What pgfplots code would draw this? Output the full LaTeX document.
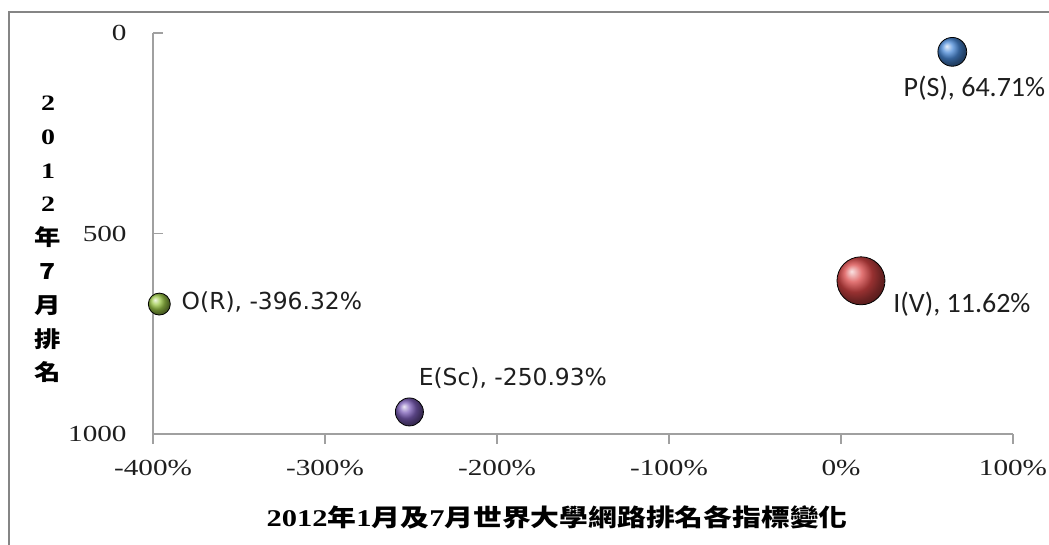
\documentclass[border=0pt]{standalone}
\usepackage{fontspec}
\usepackage{pgfplots}
\pgfplotsset{compat=1.18}
\setmainfont{Liberation Serif}[FakeStretch=1.27]
\newfontfamily\cjk{Noto Sans CJK TC}[FakeStretch=1.2]
\newfontfamily\lbl{DejaVu Sans}
\newfontfamily\lblc{Carlito}
\definecolor{axgray}{HTML}{A0A0A0}
\definecolor{framegray}{HTML}{858585}
\definecolor{pblue}{HTML}{4A8AD8}
\definecolor{pred}{HTML}{D84646}
\definecolor{pgreen}{HTML}{9CC848}
\definecolor{ppurple}{HTML}{7C5EB8}
\definecolor{txt}{HTML}{1E1E1E}
\begin{document}
\begin{tikzpicture}[x=1pt,y=1pt]
\useasboundingbox (0,0) rectangle (524.5,272.5);
\draw[framegray, line width=1pt] (4.5,0) -- (4.5,266.5) -- (524.5,266.5);
\begin{axis}[
  at={(76.5pt,55.5pt)}, anchor=south west,
  scale only axis, width=430pt, height=200.5pt,
  xmin=-400, xmax=100, ymin=0, ymax=1000, y dir=reverse,
  axis x line*=bottom, axis y line*=left,
  axis line style={axgray, line width=0.8pt},
  xtick={-400,-300,-200,-100,0,100},
  xticklabels={-400\%,-300\%,-200\%,-100\%,0\%,100\%},
  ytick={0,500,1000}, yticklabels={0,500,1000},
  xtick align=outside, ytick align=inside, major tick length=5pt,
  tick style={axgray, line width=0.8pt},
  tick label style={font=\fontsize{11.5}{12}\selectfont, text=txt},
  xticklabel style={inner sep=0pt, anchor=north, yshift=-8pt},
  yticklabel style={inner sep=0pt, anchor=east, xshift=-13pt},
  /pgf/number format/assume math mode=true,
  xlabel={2012{\cjk 年}1{\cjk 月及}7{\cjk 月世界大學網路排名各指標變化}},
  every axis x label/.style={at={(rel axis cs:0.47,0)}, anchor=center, yshift=-41.5pt, font=\fontsize{12}{14}\selectfont\bfseries},
  ylabel={2\\0\\1\\2\\{\cjk 年}\\{\cjk 7}\\{\cjk 月}\\{\cjk 排}\\{\cjk 名}},
  every axis y label/.style={at={(rel axis cs:0,0.5)}, anchor=center, xshift=-52.5pt, yshift=-3pt, align=center, font=\fontsize{11}{16.9}\selectfont\bfseries},
  point meta=explicit symbolic,
]
\addplot[only marks, mark=ball, mark size=7.2pt, mark options={ball color=pblue},
  nodes near coords, every node near coord/.append style={anchor=west, inner sep=0pt, xshift=-24.5pt, yshift=-18pt, font=\lblc\fontsize{14}{16}\selectfont, text=txt}]
  coordinates {(64.71,47) [P(S), 64.71\%]};
\addplot[only marks, mark=ball, mark size=12pt, mark options={ball color=pred},
  nodes near coords, every node near coord/.append style={anchor=west, inner sep=0pt, xshift=16pt, yshift=-11.5pt, font=\lblc\fontsize{14}{16}\selectfont, text=txt}]
  coordinates {(11.62,618) [I(V), 11.62\%]};
\addplot[only marks, mark=ball, mark size=5.5pt, mark options={ball color=pgreen},
  nodes near coords, every node near coord/.append style={anchor=west, inner sep=0pt, xshift=11pt, yshift=1pt, font=\lbl\fontsize{11.7}{14}\selectfont, text=txt}]
  coordinates {(-396.32,676) [O(R), -396.32\%]};
\addplot[only marks, mark=ball, mark size=7pt, mark options={ball color=ppurple},
  nodes near coords, every node near coord/.append style={anchor=west, inner sep=0pt, xshift=4.5pt, yshift=17pt, font=\lbl\fontsize{11.7}{14}\selectfont, text=txt}]
  coordinates {(-250.93,945) [E(Sc), -250.93\%]};
\end{axis}
\end{tikzpicture}
\end{document}
